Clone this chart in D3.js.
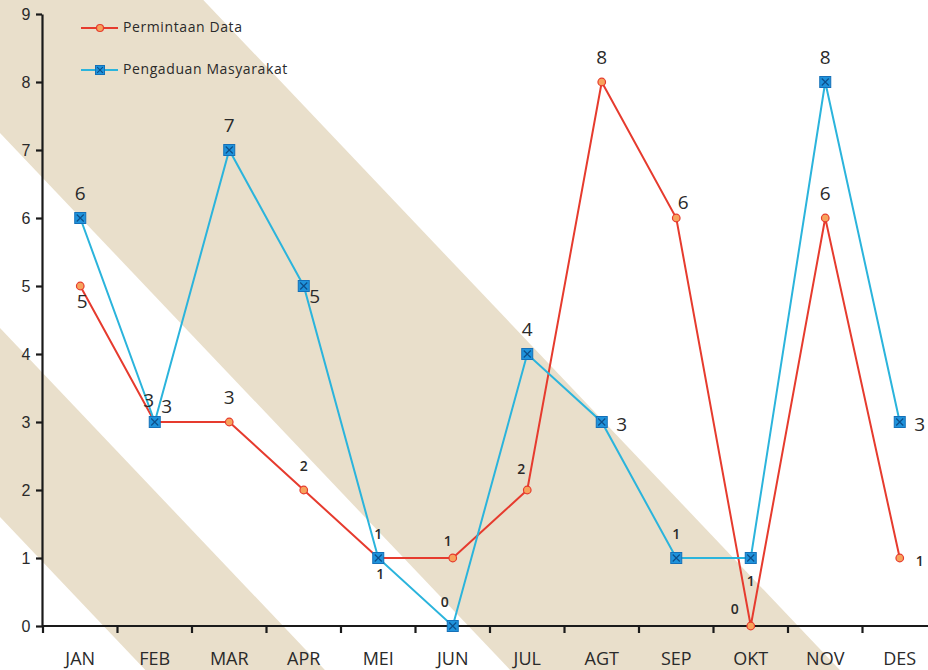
<!DOCTYPE html>
<html>
<head>
<meta charset="utf-8">
<script src="https://cdn.jsdelivr.net/npm/d3@7"></script>
<style>
  body { margin: 0; background: #fff; }
  svg { display: block; font-family: "Open Sans", "DejaVu Sans", sans-serif; }
</style>
</head>
<body>
<svg width="928" height="670"></svg>
<script>
const months = ["JAN", "FEB", "MAR", "APR", "MEI", "JUN", "JUL", "AGT", "SEP", "OKT", "NOV", "DES"];
const permintaan = [5, 3, 3, 2, 1, 1, 2, 8, 6, 0, 6, 1];
const pengaduan = [6, 3, 7, 5, 1, 0, 4, 3, 1, 1, 8, 3];
const yTicks = [0, 1, 2, 3, 4, 5, 6, 7, 8, 9];

// where each value label sits relative to its point
const permintaanLabelPos = ["b", "tl", "t", "t", "b", "tls", "tl", "t", "tr", "tl2", "t", "r"];
const pengaduanLabelPos = ["t", "tr2", "t", "br", "t", "tl3", "t", "r", "t", "b2", "t", "r"];

const colors = {
    red: "#e63b2e",
    redFill: "#f7a35c",
    blue: "#2bb4dc",
    blueFill: "#1f93dc",
    blueEdge: "#1570b8",
    stripe: "#e9dfcb",
    axis: "#1a1a1a",
    text: "#2a2a2a"
};

const svg = d3.select("svg");
const W = 928, H = 670;

// decorative diagonal bands behind the chart
const slope = 0.95;
const bands = [[328, 517], [-214, 133]]; // y where each band edge hits x=0
svg.append("g").selectAll("polygon")
    .data(bands)
    .join("polygon")
    .attr("fill", colors.stripe)
    .attr("points", d => {
        const x = (y0, y) => (y - y0) * slope;
        return [[x(d[0], 0), 0], [x(d[0], H), H], [x(d[1], H), H], [x(d[1], 0), 0]].map(p => p.join(",")).join(" ");
    });

const x = d3.scaleBand().domain(months).range([43, 937]).padding(0);
const y = d3.scaleLinear().domain([0, 9]).range([626, 14]);
const cx = m => x(m) + x.bandwidth() / 2;

const g = svg.append("g");

// y axis
const yAxis = g.append("g")
    .attr("transform", "translate(42,0)")
    .call(d3.axisLeft(y).tickValues(yTicks).tickSize(6).tickSizeOuter(0).tickPadding(14));
yAxis.select(".domain").attr("stroke", colors.axis).attr("stroke-width", 2.2);
yAxis.selectAll(".tick line").attr("stroke", colors.axis).attr("stroke-width", 2.2);
yAxis.selectAll(".tick text").attr("fill", colors.text).attr("font-size", 16).attr("text-anchor", "middle").attr("dx", 4);

// x axis, ticks between months
const xAxisG = g.append("g").attr("transform", "translate(0,626)");
xAxisG.append("line")
    .attr("x1", 42).attr("x2", W)
    .attr("stroke", colors.axis).attr("stroke-width", 2.2);
xAxisG.selectAll(".xt")
    .data(months)
    .join("line")
    .attr("class", "xt")
    .attr("x1", d => x(d)).attr("x2", d => x(d))
    .attr("y1", 0).attr("y2", 7)
    .attr("stroke", colors.axis).attr("stroke-width", 2.2);
xAxisG.selectAll(".xl")
    .data(months)
    .join("text")
    .attr("class", "xl")
    .attr("x", d => cx(d))
    .attr("y", 39)
    .attr("text-anchor", "middle")
    .attr("font-size", 18)
    .attr("fill", colors.text)
    .text(d => d);

const line = d3.line().x((d, i) => cx(months[i])).y(d => y(d));

function drawRed(sel) {
    sel.append("path")
        .attr("d", line(permintaan))
        .attr("fill", "none").attr("stroke", colors.red).attr("stroke-width", 2);
    sel.selectAll("circle")
        .data(permintaan)
        .join("circle")
        .attr("cx", (d, i) => cx(months[i]))
        .attr("cy", d => y(d))
        .attr("r", 3.8)
        .attr("fill", colors.redFill).attr("stroke", colors.red).attr("stroke-width", 1.2);
}

function blueMarker(sel, px, py, s = 5.5) {
    sel.append("rect")
        .attr("x", px - s).attr("y", py - s)
        .attr("width", 2 * s).attr("height", 2 * s)
        .attr("fill", colors.blueFill).attr("stroke", colors.blueEdge).attr("stroke-width", 1);
    const c = s * 0.64;
    sel.append("path")
        .attr("d", `M${px - c},${py - c}L${px + c},${py + c}M${px + c},${py - c}L${px - c},${py + c}`)
        .attr("stroke", "#0d4f8a").attr("stroke-width", 1.2);
}

function drawBlue(sel) {
    sel.append("path")
        .attr("d", line(pengaduan))
        .attr("fill", "none").attr("stroke", colors.blue).attr("stroke-width", 2);
    pengaduan.forEach((d, i) => blueMarker(sel, cx(months[i]), y(d)));
}

drawRed(g.append("g"));
drawBlue(g.append("g"));

// value labels
const offsets = {
    t: [0, -23], b: [2, 17], r: [20, 4], br: [11, 12],
    tl: [-6, -20], tls: [-5, -16], tl2: [-16, -16], tl3: [-8, -23],
    tr: [7, -14], tr2: [12, -14], b2: [0, 24]
};

function drawLabels(values, pos) {
    g.append("g").selectAll("text")
        .data(values)
        .join("text")
        .attr("x", (d, i) => cx(months[i]) + offsets[pos[i]][0])
        .attr("y", (d, i) => y(d) + offsets[pos[i]][1])
        .attr("dominant-baseline", "middle")
        .attr("text-anchor", "middle")
        .attr("font-size", d => d <= 2 ? 14 : 19)
        .attr("font-weight", d => d <= 2 ? 600 : "normal")
        .attr("fill", colors.text)
        .text(d => d);
}
drawLabels(permintaan, permintaanLabelPos);
drawLabels(pengaduan, pengaduanLabelPos);

// legend
const legend = g.append("g");
const legendItems = ["Permintaan Data", "Pengaduan Masyarakat"];
legendItems.forEach((name, i) => {
    const ly = 28 + i * 42;
    const col = i === 0 ? colors.red : colors.blue;
    legend.append("line")
        .attr("x1", 81).attr("x2", 118).attr("y1", ly).attr("y2", ly)
        .attr("stroke", col).attr("stroke-width", 2);
    if (i === 0) {
        legend.append("circle").attr("cx", 100).attr("cy", ly).attr("r", 3.5)
            .attr("fill", colors.redFill).attr("stroke", colors.red).attr("stroke-width", 1.2);
    } else {
        blueMarker(legend, 100, ly, 4.5);
    }
    legend.append("text")
        .attr("x", 123).attr("y", ly)
        .attr("dominant-baseline", "middle")
        .attr("font-size", 14)
        .attr("letter-spacing", 0.6)
        .attr("fill", colors.text)
        .text(name);
});
</script>
</body>
</html>
